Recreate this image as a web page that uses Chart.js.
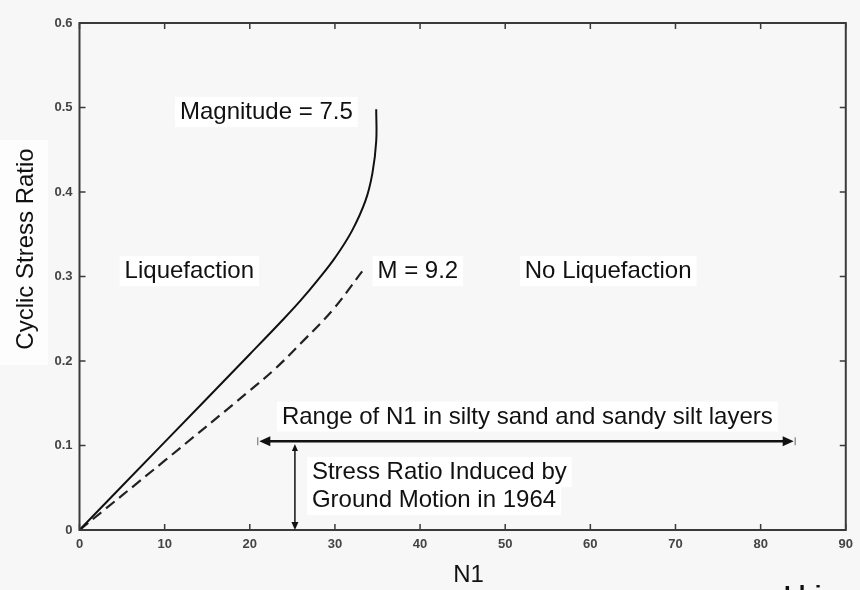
<!DOCTYPE html>
<html>
<head>
<meta charset="utf-8">
<script src="https://cdn.jsdelivr.net/npm/chart.js@4.4.1/dist/chart.umd.min.js"></script>
<style>
  html, body { margin: 0; padding: 0; background: #f7f7f7; }
  canvas { display: block; }
</style>
</head>
<body>
<canvas id="c" width="860" height="590"></canvas>
<script>
// ---- Data ----
const solidN   = [0, 10, 20, 24, 26, 28, 30, 32, 33.6, 34.4, 34.85, 34.85];
const solidCSR = [0, 0.104, 0.208, 0.250, 0.272, 0.296, 0.322, 0.354, 0.390, 0.422, 0.460, 0.498];
const dashedN   = [0, 10, 20, 23, 26, 29.7, 33.2];
const dashedCSR = [0, 0.082, 0.165, 0.191, 0.221, 0.260, 0.306];

const xTickValues = [0, 10, 20, 30, 40, 50, 60, 70, 80, 90];
const yTickValues = [0, 0.1, 0.2, 0.3, 0.4, 0.5, 0.6];

const rangeN = [21.0, 84.0];     // Range of N1 arrow ends
const rangeCSR = 0.105;
const inducedN = 25.3;           // vertical arrow position
const inducedCSR = 0.104;

const labels = [
  { text: 'Magnitude = 7.5', n: 11.8, csr: 0.4864, align: 'left' },
  { text: 'Liquefaction', n: 5.3, csr: 0.298, align: 'left' },
  { text: 'M = 9.2', n: 35.0, csr: 0.298, align: 'left' },
  { text: 'No Liquefaction', n: 52.3, csr: 0.298, align: 'left' },
  { text: 'Range of N1 in silty sand and sandy silt layers', n: 52.6, csr: 0.126, align: 'center' },
  { text: 'Stress Ratio Induced by', n: 27.3, csr: 0.0604, align: 'left' },
  { text: 'Ground Motion in 1964', n: 27.3, csr: 0.0272, align: 'left' }
];

const toPoints = (xs, ys) => xs.map((x, i) => ({ x: x, y: ys[i] }));

const FONT = '"Liberation Sans", Arial, Helvetica, sans-serif';

function arrowHead(ctx, tx, ty, dx, dy, len, hw) {
  const bx = tx - dx * len, by = ty - dy * len;
  const px = -dy, py = dx;
  ctx.beginPath();
  ctx.moveTo(tx, ty);
  ctx.lineTo(bx + px * hw, by + py * hw);
  ctx.lineTo(bx - px * hw, by - py * hw);
  ctx.closePath();
  ctx.fill();
}

const decor = {
  id: 'decor',
  beforeDraw(chart) {
    const ctx = chart.ctx;
    ctx.save();
    ctx.fillStyle = '#f7f7f7';
    ctx.fillRect(0, 0, chart.width, chart.height);
    ctx.fillStyle = '#fdfdfd';
    ctx.fillRect(0, 140, 48, 225);
    ctx.restore();
  },
  afterDatasetsDraw(chart) {
    const ctx = chart.ctx;
    const xs = chart.scales.x, ys = chart.scales.y;
    const a = chart.chartArea;
    ctx.save();

    // frame
    ctx.strokeStyle = '#3a3a3a';
    ctx.lineWidth = 2;
    ctx.strokeRect(a.left, a.top, a.right - a.left, a.bottom - a.top);

    // inward ticks on all four sides
    ctx.lineWidth = 1.5;
    ctx.beginPath();
    xTickValues.forEach(v => {
      const x = xs.getPixelForValue(v);
      ctx.moveTo(x, a.bottom); ctx.lineTo(x, a.bottom - 6);
      ctx.moveTo(x, a.top); ctx.lineTo(x, a.top + 6);
    });
    yTickValues.forEach(v => {
      const y = ys.getPixelForValue(v);
      ctx.moveTo(a.left, y); ctx.lineTo(a.left + 6, y);
      ctx.moveTo(a.right, y); ctx.lineTo(a.right - 6, y);
    });
    ctx.stroke();

    // text labels with white boxes
    ctx.font = '24px ' + FONT;
    ctx.textBaseline = 'alphabetic';
    labels.forEach(l => {
      const w = ctx.measureText(l.text).width;
      const px = xs.getPixelForValue(l.n);
      const py = ys.getPixelForValue(l.csr);
      const left = l.align === 'center' ? px - w / 2 : px;
      ctx.fillStyle = '#ffffff';
      ctx.fillRect(left - 5, py - 22, w + 10, 30);
    });
    labels.forEach(l => {
      const px = xs.getPixelForValue(l.n);
      const py = ys.getPixelForValue(l.csr);
      ctx.fillStyle = '#111111';
      ctx.textAlign = l.align;
      ctx.fillText(l.text, px, py);
    });

    // horizontal range arrow
    const x1 = xs.getPixelForValue(rangeN[0]);
    const x2 = xs.getPixelForValue(rangeN[1]);
    const yR = ys.getPixelForValue(rangeCSR);
    ctx.strokeStyle = '#111';
    ctx.fillStyle = '#111';
    ctx.lineWidth = 2.5;
    ctx.beginPath();
    ctx.moveTo(x1 + 6, yR); ctx.lineTo(x2 - 6, yR);
    ctx.stroke();
    arrowHead(ctx, x1 + 1, yR, -1, 0, 11, 5);
    arrowHead(ctx, x2 - 1, yR, 1, 0, 11, 5);
    ctx.strokeStyle = '#666';
    ctx.lineWidth = 1;
    ctx.beginPath();
    ctx.moveTo(x1 - 0.5, yR - 4); ctx.lineTo(x1 - 0.5, yR + 4);
    ctx.moveTo(x2 + 0.5, yR - 4); ctx.lineTo(x2 + 0.5, yR + 4);
    ctx.stroke();

    // vertical induced-stress arrow
    const xv = xs.getPixelForValue(inducedN);
    const yTop = ys.getPixelForValue(inducedCSR) + 2;
    const yBot = ys.getPixelForValue(0);
    ctx.strokeStyle = '#111';
    ctx.lineWidth = 1.5;
    ctx.beginPath();
    ctx.moveTo(xv, yTop + 5); ctx.lineTo(xv, yBot - 6);
    ctx.stroke();
    arrowHead(ctx, xv, yBot, 0, 1, 8, 3.5);
    arrowHead(ctx, xv, yTop, 0, -1, 7, 3);

    // axis titles
    ctx.fillStyle = '#111';
    ctx.font = '24px ' + FONT;
    ctx.textAlign = 'center';
    ctx.textBaseline = 'alphabetic';
    ctx.fillText('N1', 468.5, 582);
    ctx.save();
    ctx.translate(33, 249);
    ctx.rotate(-Math.PI / 2);
    ctx.fillText('Cyclic Stress Ratio', 0, 0);
    ctx.restore();

    // credit (cut off at bottom)
    ctx.font = 'bold 24px ' + FONT;
    ctx.textAlign = 'right';
    ctx.fillText('Idriss', 848, 603);
    ctx.restore();
  }
};

new Chart(document.getElementById('c'), {
  type: 'scatter',
  data: {
    datasets: [
      {
        label: 'Magnitude = 7.5',
        data: toPoints(solidN, solidCSR),
        showLine: true,
        borderColor: '#111111',
        borderWidth: 2,
        pointRadius: 0,
        tension: 0.4,
        fill: false
      },
      {
        label: 'M = 9.2',
        data: toPoints(dashedN, dashedCSR),
        showLine: true,
        borderColor: '#222222',
        borderWidth: 2.2,
        borderDash: [11, 6],
        pointRadius: 0,
        tension: 0.4,
        fill: false
      }
    ]
  },
  options: {
    responsive: false,
    animation: false,
    events: [],
    layout: { padding: { top: 23, right: 11.7, left: 0, bottom: 0 } },
    plugins: { legend: { display: false }, tooltip: { enabled: false } },
    scales: {
      x: {
        type: 'linear', min: 0, max: 90,
        afterBuildTicks: s => { s.ticks = xTickValues.map(v => ({ value: v })); },
        ticks: { color: '#444', font: { family: FONT, size: 13, weight: 'bold' }, padding: 7, maxRotation: 0,
                 callback: v => String(v) },
        grid: { display: false, drawTicks: false },
        border: { display: false },
        afterFit: s => { s.height = 60; }
      },
      y: {
        type: 'linear', min: 0, max: 0.6,
        afterBuildTicks: s => { s.ticks = yTickValues.map(v => ({ value: v })); },
        ticks: { color: '#444', font: { family: FONT, size: 13, weight: 'bold' }, padding: 7,
                 callback: v => (v === 0 ? '0' : Number(v).toFixed(1)) },
        grid: { display: false, drawTicks: false },
        border: { display: false },
        afterFit: s => { s.width = 79.5; }
      }
    }
  },
  plugins: [decor]
});
</script>
</body>
</html>
